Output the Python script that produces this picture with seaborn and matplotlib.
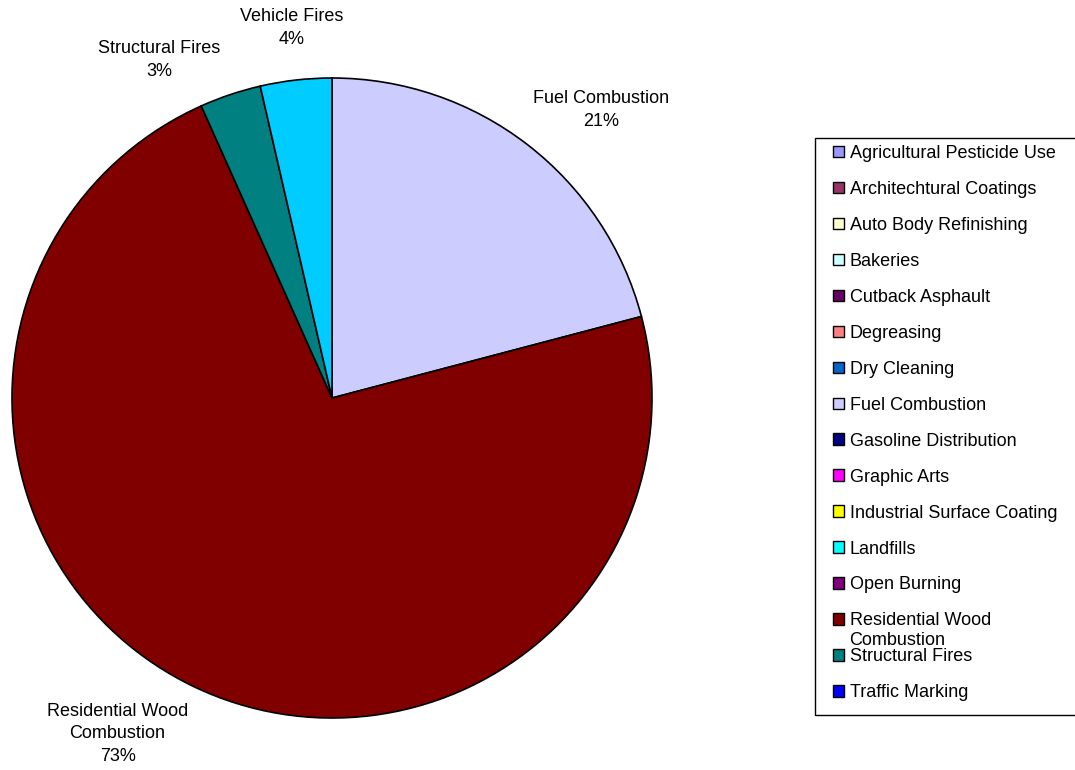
import matplotlib
matplotlib.use("Agg")
import matplotlib.pyplot as plt
import seaborn as sns
from matplotlib.patches import Patch, Rectangle

# DATA

# legend entries (all source categories) and their colours
categories = [
    "Agricultural Pesticide Use", "Architechtural Coatings", "Auto Body Refinishing",
    "Bakeries", "Cutback Asphault", "Degreasing", "Dry Cleaning", "Fuel Combustion",
    "Gasoline Distribution", "Graphic Arts", "Industrial Surface Coating", "Landfills",
    "Open Burning", "Residential Wood Combustion", "Structural Fires", "Traffic Marking",
]
category_colors = [
    "#9999FF", "#993366", "#FFFFCC", "#CCFFFF", "#660066", "#FF8080", "#0066CC", "#CCCCFF",
    "#000080", "#FF00FF", "#FFFF00", "#00FFFF", "#800080", "#800000", "#008080", "#0000FF",
]

# sources with a non-zero share (clockwise from 12 o'clock)
pie_sources = ["Fuel Combustion", "Residential Wood Combustion", "Structural Fires", "Vehicle Fires"]
pie_shares = [20.9, 72.4, 3.1, 3.6]
pie_colors = ["#CCCCFF", "#800000", "#008080", "#00CCFF"]
pie_labels = ["Fuel Combustion\n21%", "Residential Wood\nCombustion\n73%",
              "Structural Fires\n3%", "Vehicle Fires\n4%"]

# label positions (pie radius = 1)
label_pos = [(0.84, 0.90), (-0.67, -1.05), (-0.54, 1.056), (-0.125, 1.156)]

# PLOT

sns.set_style("white")
plt.rcParams["font.family"] = ["Liberation Sans", "DejaVu Sans"]
plt.rcParams["text.color"] = "black"
FS = 13

fig = plt.figure(figsize=(10.75, 7.7), dpi=100)
W, H = 1075, 770

# pie axes: centre (332, 398) px, radius 320 px
ax = fig.add_axes([12 / W, (H - 398 - 320) / H, 640 / W, 640 / H])
wedges, _ = ax.pie(
    pie_shares,
    colors=pie_colors,
    startangle=90,
    counterclock=False,
    radius=1,
    wedgeprops={"edgecolor": "black", "linewidth": 1.2},
)
ax.set_xlim(-1, 1)
ax.set_ylim(-1, 1)
ax.set_aspect("equal")
ax.axis("off")

for (lx, ly), txt in zip(label_pos, pie_labels):
    ax.text(lx, ly, txt, ha="center", va="center", fontsize=FS,
            linespacing=1.4, color="black", clip_on=False)

# legend box
fig.patches.append(Rectangle((815 / W, (H - 715) / H), 300 / W, 577 / H,
                             transform=fig.transFigure, facecolor="white",
                             edgecolor="black", linewidth=1, zorder=0))

handles = [Patch(facecolor=c, edgecolor="black", linewidth=1) for c in category_colors]
leg_labels = ["Residential Wood" if c == "Residential Wood Combustion" else c for c in categories]
leg = fig.legend(handles, leg_labels, loc="upper left",
                 bbox_to_anchor=(833 / W, 1 - 145 / H),
                 frameon=False, borderpad=0, borderaxespad=0,
                 handlelength=0.62, handleheight=0.62, handletextpad=0.3,
                 labelspacing=1.05, fontsize=FS, labelcolor="black")

# wrapped second line of the long legend entry (overflows like the original)
fig.canvas.draw()
renderer = fig.canvas.get_renderer()
for t in leg.get_texts():
    if t.get_text() == "Residential Wood":
        bb = t.get_window_extent(renderer)
        fig.text(bb.x0, bb.y0 - 3, "Combustion", ha="left", va="top",
                 fontsize=FS, color="black", transform=None)

fig.savefig("out.png", dpi=100)
